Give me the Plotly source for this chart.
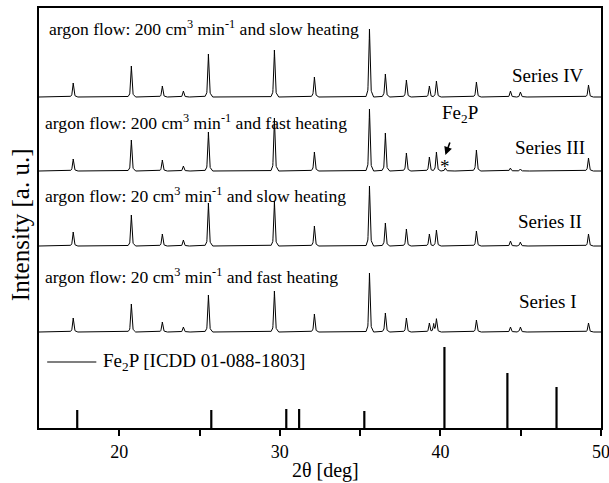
import numpy as np
import plotly.graph_objects as go

# 2θ positions (deg) of the reflections seen in the four patterns
peak_pos = [17.13, 20.75, 22.68, 23.99, 25.55, 29.66, 32.15, 35.58, 36.57,
            37.88, 39.31, 39.58, 39.75, 40.31, 42.24, 44.36, 44.98, 49.22]

# peak intensities (a. u.) for each series, same order as peak_pos
heights_iv = [14, 31, 11, 6, 43, 47, 20, 68, 23, 17, 11, 0, 16, 0, 15, 6, 5, 12]
heights_iii = [12, 31, 11, 5, 39, 53, 19, 62, 38, 18, 14, 0, 19, 3, 21, 3, 2, 13]
heights_ii = [14, 31, 12, 6, 43, 45, 20, 60, 23, 17, 12, 0, 16, 0, 15, 5, 4, 12]
heights_i = [14, 28, 10, 5, 37, 41, 18, 59, 19, 14, 9, 8, 13, 0, 12, 5, 5, 9]

# vertical offsets used to stack the patterns
offsets = {"IV": 331, "III": 257, "II": 182, "I": 96}

# Fe2P reference card ICDD 01-088-1803
ref_pos = [17.38, 25.73, 30.40, 31.20, 35.26, 40.25, 44.17, 47.23]
ref_int = [18, 18, 19, 19, 17, 81, 55, 41]

series_labels = ["Series IV", "Series III", "Series II", "Series I"]
conditions = [
    "argon flow: 200 cm<sup>3</sup> min<sup>-1</sup> and slow heating",
    "argon flow: 200 cm<sup>3</sup> min<sup>-1</sup> and fast heating",
    "argon flow: 20 cm<sup>3</sup> min<sup>-1</sup> and slow heating",
    "argon flow: 20 cm<sup>3</sup> min<sup>-1</sup> and fast heating",
]

tick_vals = [20, 25, 30, 35, 40, 45, 50]
tick_text = ["20", "", "30", "", "40", "", "50"]

FONT = "Liberation Serif"

# narrow peak profile (offset in deg, fraction of peak height)
prof_dx = [-0.22, -0.10, -0.04, 0.0, 0.04, 0.10, 0.22]
prof_f = [0.0, 0.10, 0.45, 1.0, 0.45, 0.10, 0.0]

tt = np.arange(15.0, 50.0001, 0.01)


def pattern(heights, base):
    y = np.full_like(tt, float(base))
    for p, h in zip(peak_pos, heights):
        if h:
            y += h * np.interp(tt - p, prof_dx, prof_f, left=0, right=0)
    return y


fig = go.Figure()
for heights, key in [(heights_iv, "IV"), (heights_iii, "III"),
                     (heights_ii, "II"), (heights_i, "I")]:
    fig.add_trace(go.Scatter(x=tt, y=pattern(heights, offsets[key]), mode="lines",
                             line=dict(color="black", width=1), showlegend=False,
                             hoverinfo="skip"))

# reference sticks
sx, sy = [], []
for p, h in zip(ref_pos, ref_int):
    sx += [p, p, None]
    sy += [0, h, None]
fig.add_trace(go.Scatter(x=sx, y=sy, mode="lines", line=dict(color="black", width=2.2),
                         showlegend=False, hoverinfo="skip"))

ann = []
cond_xy = [(15.51, 400), (15.26, 306), (15.26, 233), (15.22, 152)]
for txt, (x, y) in zip(conditions, cond_xy):
    ann.append(dict(x=x, y=y, text=txt, xanchor="left", yanchor="middle",
                    showarrow=False, font=dict(family=FONT, size=17.6, color="black")))

lab_xy = [(49.04, 353), (49.10, 281), (48.97, 207), (48.66, 127)]
for txt, (x, y) in zip(series_labels, lab_xy):
    ann.append(dict(x=x, y=y, text=txt, xanchor="right", yanchor="middle",
                    showarrow=False, font=dict(family=FONT, size=19, color="black")))

# Fe2P marker on Series III
ann.append(dict(x=41.2, y=314, text="Fe<sub>2</sub>P", showarrow=False,
                xanchor="center", yanchor="middle",
                font=dict(family=FONT, size=19, color="black")))
ann.append(dict(x=40.31, y=273, ax=5, ay=-14, text="", showarrow=True,
                arrowhead=2, arrowsize=1, arrowwidth=1.6, arrowcolor="black"))
ann.append(dict(x=40.31, y=262, text="*", showarrow=False, xanchor="center",
                yanchor="middle", font=dict(family=FONT, size=19, color="black")))

# legend entry for the reference card
ann.append(dict(x=18.88, y=66, text="Fe<sub>2</sub>P [ICDD 01-088-1803]",
                xanchor="left", yanchor="middle", showarrow=False,
                font=dict(family=FONT, size=19, color="black")))

# axis titles
ann.append(dict(x=0.51, y=-0.10, xref="paper", yref="paper", text="2θ [deg]",
                xanchor="center", yanchor="middle", showarrow=False,
                font=dict(family=FONT, size=20, color="black")))
ann.append(dict(x=-0.034, y=0.485, xref="paper", yref="paper", text="Intensity [a. u.]",
                textangle=-90, xanchor="center", yanchor="middle", showarrow=False,
                font=dict(family=FONT, size=25, color="black")))

shapes = [dict(type="line", x0=15.51, x1=18.57, y0=66, y1=66, xref="x", yref="y",
               line=dict(color="black", width=1.2))]

fig.update_layout(
    width=609, height=483,
    margin=dict(l=39, r=8, t=8, b=55),
    paper_bgcolor="white", plot_bgcolor="white",
    annotations=ann, shapes=shapes, showlegend=False,
    font=dict(family=FONT, color="black"),
)
fig.update_xaxes(
    range=[15, 50], showline=True, linewidth=2, linecolor="black", mirror=True,
    ticks="outside", ticklen=6, tickwidth=2, tickcolor="black",
    tickvals=tick_vals, ticktext=tick_text, ticklabeloverflow="allow",
    tickfont=dict(family=FONT, size=18, color="black"),
    showgrid=False, zeroline=False, automargin=False,
)
fig.update_yaxes(
    range=[0, 420], showline=True, linewidth=2, linecolor="black", mirror=True,
    ticks="", showticklabels=False, showgrid=False, zeroline=False, automargin=False,
)

fig.write_html("out.html")
